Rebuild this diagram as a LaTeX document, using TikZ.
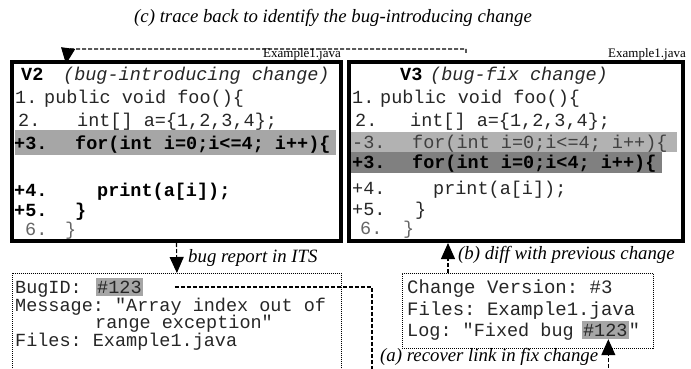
\documentclass[tikz,border=0pt]{standalone}
\usepackage{fontspec}
\setmainfont{Liberation Serif}
\setmonofont{Liberation Mono}
\usetikzlibrary{arrows.meta}

\tikzset{
  vbox/.style={draw, line width=4pt, inner sep=0pt},
  logbox/.style={draw, line width=0.8pt, dash pattern=on 1pt off 1pt, inner sep=0pt},
  code/.style={anchor=base west, inner sep=0pt, text=black!85,
    font=\ttfamily\fontsize{18.5}{22}\selectfont},
  bigcode/.style={code, font=\ttfamily\fontsize{19}{22}\selectfont},
  addline/.style={text=black, font=\ttfamily\bfseries\fontsize{18.5}{22}\selectfont},
  oldline/.style={text=black!60},
  hlref/.style={fill=black!35, inner xsep=1pt, inner ysep=2pt, text height=13pt, text depth=1pt},
  captext/.style={font=\itshape\fontsize{18.8}{20}\selectfont, inner sep=0pt},
  fname/.style={font=\fontsize{13}{14}\selectfont, inner sep=0pt, anchor=base east},
  link/.style={line width=1.1pt, dash pattern=on 4pt off 2pt},
  bigtip/.style={-{Triangle[length=16pt,width=14pt]}},
}

\begin{document}
\begin{tikzpicture}[x=1pt,y=-1pt]
\useasboundingbox (0,0) rectangle (691,369);
\clip (0,0) rectangle (691,369);

% labels
\node[captext] (trace) at (333,18) {(c) trace back to identify the bug-introducing change};
\node[fname] (v2file) at (341,58) {Example1.java};
\node[fname] (v3file) at (686,58) {Example1.java};

% V2
\node[vbox, minimum width=329pt, minimum height=179pt] (v2) at (176.5,151.5) {};
\fill[black!35] (15,130) rectangle (336,155);
\node[code] (v2head) at (21,81) {\makebox[42pt][l]{\bfseries\color{black}V2}\textit{(bug-introducing change)}};
\node[code] (v2l1) at (15,103) {\makebox[29pt][l]{1.}public void foo()\{};
\node[code] (v2l2) at (18,126) {\makebox[59pt][l]{2.}int[] a=\{1,2,3,4\};};
\node[code,addline] (v2l3) at (14,149) {\makebox[61pt][l]{+3.}for(int i=0;i<=4; i++)\{};
\node[code,addline] (v2l4) at (14,196) {\makebox[83pt][l]{+4.}print(a[i]);};
\node[code,addline] (v2l5) at (14,216) {\makebox[61pt][l]{+5.}\}};
\node[code,oldline] (v2l6) at (25,235) {\makebox[40pt][l]{6.}\}};

% V3
\node[vbox, minimum width=334pt, minimum height=179pt] (v3) at (516,151.5) {};
\fill[black!30] (351,132) rectangle (677,152);
\fill[black!50] (351,152) rectangle (662,173);
\node[code] (v3head) at (400,81) {\makebox[30pt][l]{\bfseries\color{black}V3}\textit{(bug-fix change)}};
\node[code] (v3l1) at (352,103) {\makebox[28pt][l]{1.}public void foo()\{};
\node[code] (v3l2) at (355,126) {\makebox[55pt][l]{2.}int[] a=\{1,2,3,4\};};
\node[code,text=black!75] (v3l3) at (352,148) {\makebox[60pt][l]{-3.}for(int i=0;i<=4; i++)\{};
\node[code,addline] (v3l3b) at (352,168) {\makebox[60pt][l]{+3.}for(int i=0;i<4; i++)\{};
\node[code] (v3l4) at (352,194) {\makebox[81pt][l]{+4.}print(a[i]);};
\node[code] (v3l5) at (352,215) {\makebox[63pt][l]{+5.}\}};
\node[code,oldline] (v3l6) at (360,234) {\makebox[43pt][l]{6.}\}};

% bug report
\node[logbox, minimum width=329pt, minimum height=140pt, anchor=north west] (report) at (12,273) {};
\node[code] (bugline) at (15,293) {BugID:};
\node[code,hlref] (bugid) at (96,293) {\#123};
\node[code] (msgline) at (15,311) {Message: "Array index out of};
\node[code] (msgline2) at (95,328) {range exception"};
\node[code] (fileline) at (15,346) {Files: Example1.java};
\node[captext,anchor=west] (itslabel) at (188,258) {bug report in ITS};

% fix change
\node[logbox, minimum width=251pt, minimum height=75pt, anchor=north west] (fix) at (402,273) {};
\node[bigcode] (verline) at (407,293) {Change Version: \#3};
\node[bigcode] (fixfile) at (407,315) {Files: Example1.java};
\node[code] (logline) at (407,336) {Log: "Fixed bug};
\node[code,hlref,xshift=8pt] (fixref) at (logline.base east) {\#123};
\node[code] (logend) at (fixref.base east) {"};
\node[captext,anchor=west] (difflabel) at (458,255) {(b) diff with previous change};
\node[captext,anchor=west] (recoverlabel) at (380,357) {(a) recover link in fix change};

% connectors
\coordinate (tracebend) at (68,49);
\draw[link,bigtip] ([xshift=119pt,yshift=7pt]v3.north west) |- (tracebend) -- ([xshift=56pt,yshift=-4pt]v2.north west);
\draw[link,bigtip] (v2.south) -- (report.north);
\coordinate (diffbase) at ([xshift=46pt]fix.north west);
\draw[link,bigtip] (diffbase) -- (diffbase |- v3.south);
\coordinate (linkfoot) at (372,380);
\draw[link] ([xshift=32pt]bugid.east) -| (linkfoot);
\coordinate (recovertop) at ([xshift=3pt]fixref.south);
\coordinate (recoverfoot) at (0,380);
\draw[link,bigtip] (recovertop |- recoverfoot) -- (recovertop);
\end{tikzpicture}
\end{document}
